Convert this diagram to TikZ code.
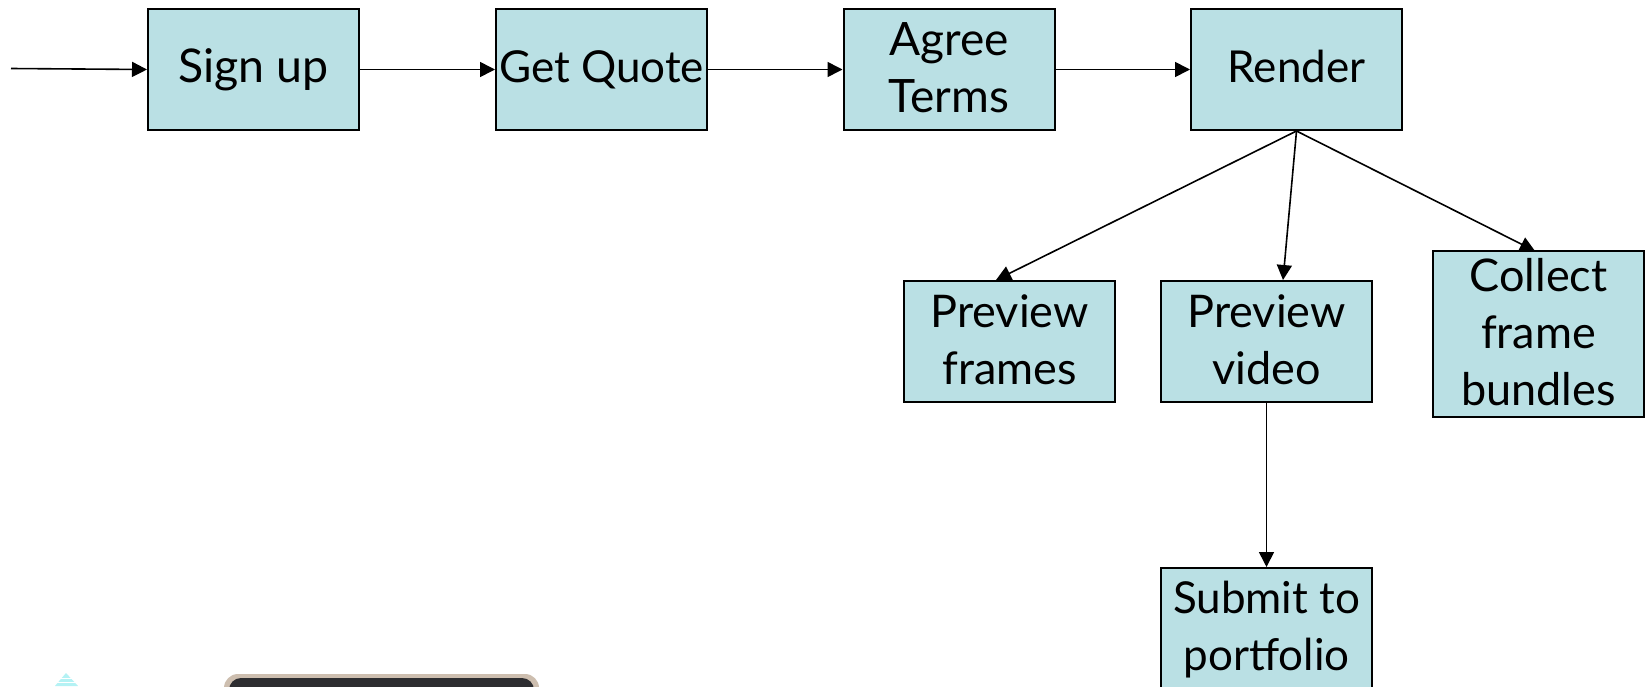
\documentclass[tikz,border=0pt]{standalone}
\usepackage{fontspec}
\setmainfont{Lato}
\usetikzlibrary{arrows.meta}
\definecolor{boxfill}{HTML}{BAE0E4}
\tikzset{
  x=1pt,y=-1pt,
  procbox/.style={draw=black,line width=2pt,fill=boxfill,inner sep=0pt,minimum width=211pt,minimum height=121pt,align=center,
    font=\fontsize{45}{57}\selectfont,text=black,text height=31pt,text depth=5pt},
  flow/.style={draw=black,line width=1.6pt,-{Triangle[length=15pt,width=15pt]}}
}
\begin{document}
\begin{tikzpicture}
\useasboundingbox (0,0) rectangle (1646,686);
\fill[white] (0,0) rectangle (1646,686);
\node[procbox,font=\fontsize{46.5}{57}\selectfont] (signup) at (253.5,69.5) {Sign up};
\node[procbox,font=\fontsize{44}{57}\selectfont] (quote) at (601.5,69.5) {Get Quote};
\node[procbox,font=\fontsize{46}{57}\selectfont,text height=91.5pt] (terms) at (949,69.5) {Agree\\Terms};
\node[procbox,font=\fontsize{44}{57}\selectfont] (render) at (1296.5,69.5) {Render};
\node[procbox,text height=91pt] (frames) at (1009.5,341) {Preview\\frames};
\node[procbox,text height=91pt] (video) at (1266.5,341) {Preview\\video};
\node[procbox,minimum height=166pt,text height=148pt] (collect) at (1538.5,334) {Collect\\frame\\bundles};
\node[procbox,minimum height=134pt,text height=76pt,font=\fontsize{44}{57}\selectfont] (submit) at (1266.5,635) {Submit to\\portfolio};
\coordinate (start) at (11,68.5);
\coordinate (framesin) at (996,280);
\coordinate (videoin) at (1283,280);
\coordinate (collectin) at (1535,251);
\draw[flow] (start) -- (signup.west);
\draw[flow] (signup) -- (quote.west);
\draw[flow] (quote) -- (terms.west);
\draw[flow] (terms) -- (render.west);
\draw[flow] (render.south) -- (framesin);
\draw[flow] (render.south) -- (videoin);
\draw[flow] (render.south) -- (collectin);
\draw[flow] (video) -- (submit.north);
% cut-off pictures along the bottom edge
\fill[boxfill!70!cyan!60] (66,673) -- (55,686) -- (78,686) -- cycle;
\fill[white] (50,677.5) rectangle (82,678.5);
\fill[white] (50,681.5) rectangle (82,682.5);
\fill[rounded corners=14pt,color={rgb,255:red,205;green,190;blue,175}] (224,674) rectangle (539,710);
\fill[rounded corners=12pt,color={rgb,255:red,45;green,45;blue,48}] (229,678) rectangle (534,710);
\end{tikzpicture}
\end{document}
